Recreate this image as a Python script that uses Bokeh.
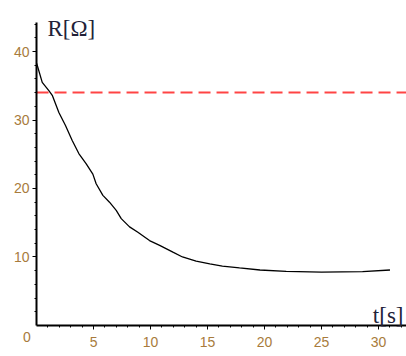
from bokeh.plotting import figure
from bokeh.models import FixedTicker, Range1d, Label
from bokeh.embed import file_html
from bokeh.resources import INLINE

# data
t_s = [0, 0.06, 0.5, 1.08, 1.38, 1.96, 2.54, 3.13, 3.71, 4.36, 4.94, 5.23, 5.82,
       6.4, 6.99, 7.43, 8.16, 8.89, 9.91, 10.8, 11.96, 12.8, 14.0, 15.2, 16.3,
       17.8, 19.6, 21.9, 25.0, 28.6, 31.0]
r_ohm = [38.3, 38.0, 35.5, 34.3, 33.6, 31.1, 29.2, 27.0, 25.1, 23.6, 22.1, 20.7,
         19.0, 18.0, 16.8, 15.6, 14.4, 13.6, 12.4, 11.7, 10.7, 10.0, 9.4, 9.0,
         8.67, 8.4, 8.1, 7.9, 7.8, 7.85, 8.1]
threshold = 34
x_ticks = [5, 10, 15, 20, 25, 30]
x_minor = list(range(1, 33))
y_ticks = [10, 20, 30, 40]
y_minor = list(range(2, 45, 2))
x_end = 32.45
y_end = 44.2

p = figure(width=406, height=356, output_backend="svg", toolbar_location=None,
           x_range=Range1d(-3.16, x_end), y_range=Range1d(-4.53, 47.45),
           min_border=0)
p.outline_line_color = None
p.xgrid.visible = False
p.ygrid.visible = False

p.line(t_s, r_ohm, line_color="black", line_width=1.3)
p.ray(x=[0], y=[threshold], length=0, angle=0, line_color="#ff4444",
      line_width=2, line_dash="12 6")

tick_color = "#a87b3c"
for ax, tk, mn, bd in ((p.xaxis[0], x_ticks, x_minor, (0, x_end)),
                       (p.yaxis[0], y_ticks, y_minor, (0, y_end))):
    ax.ticker = FixedTicker(ticks=tk, minor_ticks=mn)
    ax.fixed_location = 0
    ax.bounds = bd
    ax.axis_line_color = "black"
    ax.axis_line_width = 2
    ax.major_tick_line_color = "black"
    ax.minor_tick_line_color = "black"
    ax.major_tick_out = 4
    ax.major_tick_in = 0
    ax.minor_tick_out = 2
    ax.minor_tick_in = 0
    ax.major_label_text_font = "Liberation Sans"
    ax.major_label_text_font_size = "14px"
    ax.major_label_text_color = tick_color
p.xaxis[0].major_label_standoff = 8
p.yaxis[0].major_label_standoff = 3

p.add_layout(Label(x=-0.85, y=-1.7, text="0", text_font="Liberation Sans",
                   text_font_size="14px", text_color=tick_color,
                   text_align="center", text_baseline="middle"))
p.add_layout(Label(x=0.96, y=43.4, text="R[Ω]", text_font="Liberation Serif",
                   text_font_size="23px", text_color="#222238",
                   text_align="left", text_baseline="alphabetic"))
p.add_layout(Label(x=29.5, y=1.4, text="t[s]", text_font="Liberation Serif",
                   text_font_size="23px", text_color="#222238",
                   text_align="left", text_baseline="alphabetic"))

open("out.html", "w").write(file_html(p, INLINE))
